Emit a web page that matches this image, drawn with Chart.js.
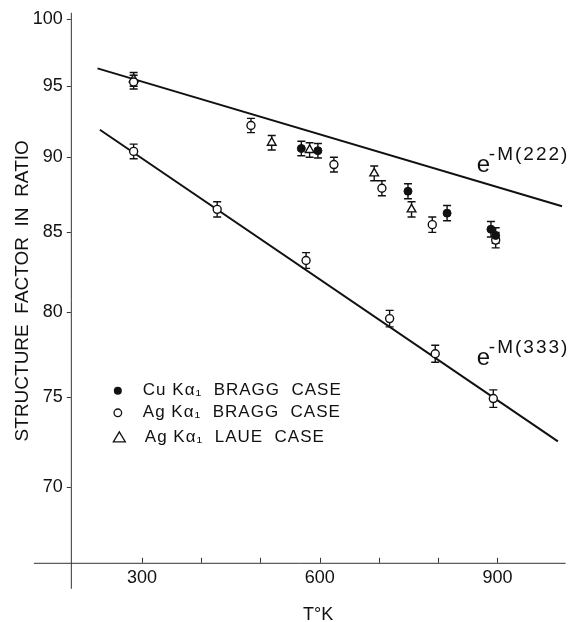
<!DOCTYPE html>
<html>
<head>
<meta charset="utf-8">
<script src="https://cdn.jsdelivr.net/npm/chart.js@4/dist/chart.umd.min.js"></script>
<style>
  html, body { margin: 0; padding: 0; background: #fff; }
  #wrap { width: 572px; height: 622px; }
</style>
</head>
<body>
<div id="wrap"><canvas id="c" width="572" height="622"></canvas></div>
<script>
// ---- data ----
const cuBraggT = [569, 597, 749, 815, 889, 897];
const cuBraggF = [90.6, 90.45, 87.7, 86.25, 85.2, 84.8];
const cuBraggErr = [0.5, 0.5, 0.5, 0.5, 0.5, 0.5];

const agBragg222T = [286, 484, 624, 705, 790, 897];
const agBragg222F = [95.3, 92.2, 89.5, 87.9, 85.5, 84.5];
const agBragg222Err = [0.5, 0.5, 0.5, 0.5, 0.5, 0.5];

const agBragg333T = [286, 427, 577, 718, 795, 893];
const agBragg333F = [90.4, 86.5, 83.2, 79.6, 77.5, 74.9];
const agBragg333Err = [0.5, 0.5, 0.5, 0.5, 0.5, 0.5];

const agLaueT = [286, 519, 583, 692, 755];
const agLaueF = [95.5, 91.0, 90.5, 88.9, 86.5];
const agLaueErr = [0.5, 0.5, 0.5, 0.5, 0.5];

const line222T = [225, 1009];
const line222F = [96.3, 86.7];
const line333T = [229, 1002];
const line333F = [91.9, 72.5];

const xTicks = [300, 400, 500, 600, 700, 800, 900];
const xLabeled = [300, 600, 900];
const yTicks = [70, 75, 80, 85, 90, 95, 100];

const legendLabels = ['Cu K\u03B1\u2081  BRAGG  CASE', 'Ag K\u03B1\u2081  BRAGG  CASE', 'Ag K\u03B1\u2081  LAUE  CASE'];
const curveLabels = [{ base: 'e', sup: '-M(222)' }, { base: 'e', sup: '-M(333)' }];

const pts = (xs, ys) => xs.map((x, i) => ({ x: x, y: ys[i] }));
const FONT = '"Liberation Sans", Arial, Helvetica, sans-serif';
const INK = '#111';

const errorBars = {
  id: 'errorBars',
  beforeDatasetsDraw(chart) {
    const ctx = chart.ctx, ys = chart.scales.y;
    ctx.save();
    ctx.strokeStyle = INK;
    ctx.lineWidth = 1.4;
    chart.data.datasets.forEach((ds, di) => {
      if (!ds.errors) return;
      const meta = chart.getDatasetMeta(di);
      meta.data.forEach((el, i) => {
        const v = ds.data[i].y, e = ds.errors[i];
        const y1 = ys.getPixelForValue(v + e), y2 = ys.getPixelForValue(v - e);
        const x = el.x;
        ctx.beginPath();
        ctx.moveTo(x, y1); ctx.lineTo(x, y2);
        ctx.moveTo(x - 4, y1); ctx.lineTo(x + 4, y1);
        ctx.moveTo(x - 4, y2); ctx.lineTo(x + 4, y2);
        ctx.stroke();
      });
    });
    ctx.restore();
  }
};

const axesAndLabels = {
  id: 'axesAndLabels',
  beforeDatasetsDraw(chart) {
    const ctx = chart.ctx, a = chart.chartArea;
    const xs = chart.scales.x, ys = chart.scales.y;
    ctx.save();
    ctx.strokeStyle = '#333';
    ctx.lineWidth = 1;
    ctx.beginPath();
    ctx.moveTo(a.left - 37, a.bottom + 0.5); ctx.lineTo(a.right, a.bottom + 0.5);
    ctx.moveTo(a.left + 0.5, a.top - 6); ctx.lineTo(a.left + 0.5, a.bottom + 26);
    ctx.stroke();
    ctx.beginPath();
    xTicks.forEach(v => {
      const x = Math.round(xs.getPixelForValue(v)) + 0.5;
      ctx.moveTo(x, a.bottom); ctx.lineTo(x, a.bottom - 5);
    });
    yTicks.forEach(v => {
      const y = Math.round(ys.getPixelForValue(v)) + 0.5;
      ctx.moveTo(a.left - 4, y); ctx.lineTo(a.left, y);
    });
    ctx.stroke();
    ctx.restore();
  },
  afterDatasetsDraw(chart) {
    const ctx = chart.ctx, a = chart.chartArea;
    ctx.save();
    ctx.fillStyle = INK;
    ctx.strokeStyle = INK;
    const lx = a.left + 47, rows = [a.top + 372, a.top + 394, a.top + 419];
    ctx.lineWidth = 1.3;
    ctx.beginPath(); ctx.arc(lx, rows[0], 4, 0, Math.PI * 2); ctx.fill();
    ctx.beginPath(); ctx.arc(lx, rows[1], 3.8, 0, Math.PI * 2); ctx.stroke();
    ctx.beginPath();
    ctx.moveTo(lx + 1.5, rows[2] - 6); ctx.lineTo(lx + 7.5, rows[2] + 4); ctx.lineTo(lx - 4.5, rows[2] + 4); ctx.closePath();
    ctx.stroke();
    ctx.font = '17px ' + FONT;
    ctx.textBaseline = 'middle';
    ctx.textAlign = 'left';
    if ('letterSpacing' in ctx) ctx.letterSpacing = '1px';
    legendLabels.forEach((t, i) => ctx.fillText(t, a.left + 72 + (i === 2 ? 2 : 0), rows[i]));
    const pos = [[a.left + 406, a.top + 153], [a.left + 406, a.top + 346]];
    curveLabels.forEach((c, i) => {
      const [x, y] = pos[i];
      if ('letterSpacing' in ctx) ctx.letterSpacing = '0px';
      ctx.font = '24px ' + FONT;
      ctx.textBaseline = 'alphabetic';
      ctx.fillText(c.base, x, y);
      ctx.font = '19px ' + FONT;
      if ('letterSpacing' in ctx) ctx.letterSpacing = '2px';
      ctx.fillText(c.sup, x + 12, y - 12);
    });
    ctx.restore();
  }
};

new Chart(document.getElementById('c'), {
  data: {
    datasets: [
      { type: 'scatter', label: 'Cu K\u03B1\u2081 BRAGG CASE', data: pts(cuBraggT, cuBraggF), errors: cuBraggErr,
        pointStyle: 'circle', pointRadius: 4, backgroundColor: INK, borderColor: INK, borderWidth: 1 },
      { type: 'scatter', label: 'Ag K\u03B1\u2081 BRAGG CASE (222)', data: pts(agBragg222T, agBragg222F), errors: agBragg222Err,
        pointStyle: 'circle', pointRadius: 4, backgroundColor: '#fff', borderColor: INK, borderWidth: 1.4 },
      { type: 'scatter', label: 'Ag K\u03B1\u2081 BRAGG CASE (333)', data: pts(agBragg333T, agBragg333F), errors: agBragg333Err,
        pointStyle: 'circle', pointRadius: 4, backgroundColor: '#fff', borderColor: INK, borderWidth: 1.4 },
      { type: 'scatter', label: 'Ag K\u03B1\u2081 LAUE CASE', data: pts(agLaueT, agLaueF), errors: agLaueErr,
        pointStyle: 'triangle', pointRadius: 5, backgroundColor: '#fff', borderColor: INK, borderWidth: 1.4 },
      { type: 'line', label: 'e-M(222)', data: pts(line222T, line222F), borderColor: INK, borderWidth: 2,
        pointRadius: 0, fill: false, tension: 0 },
      { type: 'line', label: 'e-M(333)', data: pts(line333T, line333F), borderColor: INK, borderWidth: 2,
        pointRadius: 0, fill: false, tension: 0 }
    ]
  },
  options: {
    responsive: false,
    animation: false,
    layout: { padding: { left: 11, right: -8, top: 11, bottom: 0 } },
    plugins: { legend: { display: false }, tooltip: { enabled: false } },
    scales: {
      x: {
        type: 'linear', position: 'bottom', min: 180, max: 1015,
        grid: { display: false, drawTicks: false },
        border: { display: false },
        afterBuildTicks: s => { s.ticks = xTicks.map(v => ({ value: v })); },
        ticks: { color: INK, font: { family: FONT, size: 18 }, padding: 4, maxRotation: 0, autoSkip: false,
                 callback: v => xLabeled.includes(v) ? String(v) : '' },
        title: { display: true, text: 'T\u00B0K', color: INK, font: { family: FONT, size: 18 }, padding: { top: 12, bottom: -4 } }
      },
      y: {
        type: 'logarithmic', min: 66.1, max: 100,
        grid: { display: false, drawTicks: false },
        border: { display: false },
        afterBuildTicks: s => { s.ticks = yTicks.map(v => ({ value: v })); },
        ticks: { color: INK, font: { family: FONT, size: 18 }, padding: 8, autoSkip: false,
                 callback: v => String(v) },
        title: { display: true, text: 'STRUCTURE  FACTOR  IN  RATIO', color: INK, font: { family: FONT, size: 19 }, padding: { top: 0, bottom: -9 } }
      }
    }
  },
  plugins: [errorBars, axesAndLabels]
});
</script>
</body>
</html>
